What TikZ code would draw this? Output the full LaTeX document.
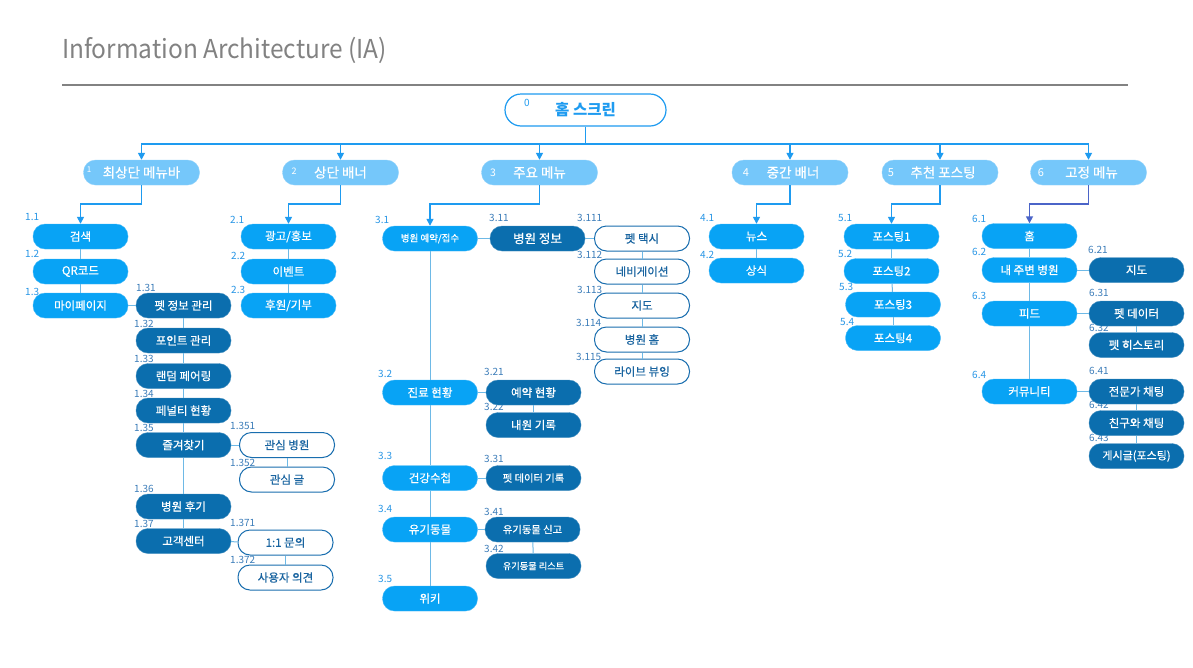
\documentclass[tikz,border=0pt]{standalone}
\usepackage{fontspec}
\setmainfont{Noto Sans CJK KR}
\newfontfamily\nodefont[FakeBold=0.6]{Noto Sans CJK KR}
\usetikzlibrary{arrows.meta}
\definecolor{lvlone}{RGB}{117,199,250}
\definecolor{brightc}{RGB}{8,163,245}
\definecolor{darkc}{RGB}{11,110,174}
\definecolor{treec}{RGB}{30,155,240}
\definecolor{thinc}{RGB}{110,185,230}
\definecolor{numa}{RGB}{40,150,230}
\definecolor{numb}{RGB}{60,125,185}
\definecolor{outlc}{RGB}{25,110,175}
\definecolor{outtc}{RGB}{25,100,160}
\definecolor{navyc}{RGB}{75,100,200}
\definecolor{titlegray}{RGB}{130,130,130}
\newcommand\fs[1]{\nodefont\fontsize{#1}{#1}\selectfont}
\newcommand\fr[1]{\fontsize{#1}{#1}\selectfont}
\begin{document}
\begin{tikzpicture}[x=1pt,y=-1pt,
  pill/.style={rectangle, rounded corners=12pt, minimum width=95pt, minimum height=25pt, inner sep=0pt, font=\fs{11.5}},
  brightbox/.style={pill, fill=brightc, draw=brightc!75!white, text=white},
  darkbox/.style={pill, fill=darkc, draw=darkc!75!white, text=white},
  outbox/.style={pill, fill=white, draw=outlc, line width=1pt, text=outtc},
  topbox/.style={pill, fill=lvlone, draw=lvlone!80!white, minimum width=116pt, font=\fs{13.5}, text=white},
  topnum/.style={inner sep=0pt, text=white},
  numlab/.style={font=\fr{10}, text=numa, inner sep=0pt, anchor=west},
  numlabd/.style={numlab, text=numb},
  treeline/.style={draw=treec, line width=1.5pt},
  treearrow/.style={treeline, -{Triangle[width=7pt,length=7pt]}},
  colline/.style={draw=thinc, line width=1pt}]
\useasboundingbox[fill=white] (0,0) rectangle (1193,667);

% title
\node[anchor=west, inner sep=0pt, text=titlegray, font=\fr{26}] (title) at (62,50) {\scalebox{0.94}[1]{Information Architecture (IA)}};
\coordinate (rulea) at (62,85);
\coordinate (ruleb) at (1128,85);
\draw[titlegray, line width=2pt] (rulea) -- (ruleb);

% number labels (behind nodes)
\node[numlab] (l11) at (25,217) {1.1};
\node[numlab] (l12) at (25,254) {1.2};
\node[numlab] (l13) at (25,292) {1.3};
\node[numlabd] (l131) at (136,288) {1.31};
\node[numlabd] (l132) at (134,324) {1.32};
\node[numlabd] (l133) at (134,359) {1.33};
\node[numlabd] (l134) at (134,394) {1.34};
\node[numlabd] (l135) at (134,428) {1.35};
\node[numlabd] (l136) at (134,489) {1.36};
\node[numlabd] (l137) at (134,524) {1.37};
\node[numlabd] (l1351) at (230,426) {1.351};
\node[numlabd] (l1352) at (230,463) {1.352};
\node[numlabd] (l1371) at (230,523) {1.371};
\node[numlabd] (l1372) at (230,560) {1.372};
\node[numlab] (l21) at (230,220) {2.1};
\node[numlab] (l22) at (231,256) {2.2};
\node[numlab] (l23) at (231,290) {2.3};
\node[numlab] (l31) at (375,220) {3.1};
\node[numlabd] (l311) at (489,218) {3.11};
\node[numlabd] (l3111) at (577,218) {3.111};
\node[numlabd] (l3112) at (577,255) {3.112};
\node[numlabd] (l3113) at (577,290) {3.113};
\node[numlabd] (l3114) at (576,323) {3.114};
\node[numlabd] (l3115) at (576,357) {3.115};
\node[numlab] (l32) at (378,374) {3.2};
\node[numlabd] (l321) at (484,372) {3.21};
\node[numlabd] (l322) at (484,407) {3.22};
\node[numlab] (l33) at (378,456) {3.3};
\node[numlabd] (l331) at (484,459) {3.31};
\node[numlab] (l34) at (378,509) {3.4};
\node[numlabd] (l341) at (484,512) {3.41};
\node[numlabd] (l342) at (484,549) {3.42};
\node[numlab] (l35) at (378,579) {3.5};
\node[numlab] (l41) at (700,218) {4.1};
\node[numlab] (l42) at (700,255) {4.2};
\node[numlab] (l51) at (838,218) {5.1};
\node[numlab] (l52) at (838,254) {5.2};
\node[numlab] (l53) at (839,287) {5.3};
\node[numlab] (l54) at (840,322) {5.4};
\node[numlab] (l61) at (972,219) {6.1};
\node[numlab] (l62) at (972,252) {6.2};
\node[numlab] (l63) at (972,296) {6.3};
\node[numlab] (l64) at (972,375) {6.4};
\node[numlabd] (l621) at (1088,250) {6.21};
\node[numlabd] (l631) at (1089,293) {6.31};
\node[numlabd] (l632) at (1089,328) {6.32};
\node[numlabd] (l641) at (1089,371) {6.41};
\node[numlabd] (l642) at (1089,405) {6.42};
\node[numlabd] (l643) at (1089,438) {6.43};

% root
\node[pill, minimum width=161pt, minimum height=32pt, rounded corners=16pt, fill=white, draw=treec, line width=1.2pt, text=treec, font=\fr{15.5}\bfseries] (root) at (585.5,110) {홈 스크린};
\node[inner sep=0pt, text=treec, font=\fr{10}] (n0) at (527,103) {0};

% level 1
\node[topbox] (t1) at (141.5,172.5) {최상단 메뉴바};
\node[topbox] (t2) at (340.5,172.5) {상단 배너};
\node[topbox] (t3) at (539.5,172.5) {주요 메뉴};
\node[topbox] (t4) at (790,172.5) {\hspace*{6pt}중간 배너};
\node[topbox] (t5) at (940,172.5) {\hspace*{6pt}추천 포스팅};
\node[topbox] (t6) at (1088.5,172.5) {\hspace*{6pt}고정 메뉴};
\node[topnum, font=\fr{8}] (t1n) at (89,170) {1};
\node[topnum, font=\fr{9}] (t2n) at (294,171) {2};
\node[topnum, font=\fr{10.5}] (t3n) at (493,173) {3};
\node[topnum, font=\fr{11}] (t4n) at (746,173) {4};
\node[topnum, font=\fr{11}] (t5n) at (891,173) {5};
\node[topnum, font=\fr{11}] (t6n) at (1041,173) {6};

% column 1
\node[brightbox] (n11) at (80.5,236.5) {검색};
\node[brightbox] (n12) at (80.5,271.5) {QR코드};
\node[brightbox] (n13) at (80.5,305.5) {마이페이지};
\node[darkbox] (n131) at (183.5,305.5) {펫 정보 관리};
\node[darkbox] (n132) at (183.5,340.5) {포인트 관리};
\node[darkbox] (n133) at (183.5,376) {랜덤 페어링};
\node[darkbox] (n134) at (183.5,410.5) {페널티 현황};
\node[darkbox] (n135) at (183.5,445) {즐겨찾기};
\node[darkbox] (n136) at (183.5,506.5) {병원 후기};
\node[darkbox] (n137) at (183.5,541) {고객센터};
\node[outbox] (n1351) at (287,445) {관심 병원};
\node[outbox] (n1352) at (287,479.5) {관심 글};
\node[outbox] (n1371) at (285.5,542.5) {1:1 문의};
\node[outbox] (n1372) at (285.5,577.5) {사용자 의견};

% column 2
\node[brightbox] (n21) at (288.5,236.5) {광고/홍보};
\node[brightbox] (n22) at (288.5,271.5) {이벤트};
\node[brightbox] (n23) at (288.5,305.5) {후원/기부};

% column 3
\node[brightbox, font=\fs{9.5}] (n31) at (430,238.5) {병원 예약/접수};
\node[brightbox] (n32) at (430,392.5) {진료 현황};
\node[brightbox] (n33) at (430,478) {건강수첩};
\node[brightbox] (n34) at (430,529.5) {유기동물};
\node[brightbox] (n35) at (430,598.5) {위키};
\node[darkbox, font=\fs{12.5}] (n311) at (537.5,238.5) {병원 정보};
\node[outbox] (n3111) at (642,238.5) {펫 택시};
\node[outbox] (n3112) at (642,271.5) {네비게이션};
\node[outbox] (n3113) at (642,305.5) {지도};
\node[outbox] (n3114) at (642,339.5) {병원 홈};
\node[outbox] (n3115) at (642,371.5) {라이브 뷰잉};
\node[darkbox] (n321) at (533.5,392.5) {예약 현황};
\node[darkbox] (n322) at (533.5,425) {내원 기록};
\node[darkbox, font=\fs{10.3}] (n331) at (533.5,478) {펫 데이터 기록};
\node[darkbox, font=\fs{10.3}] (n341) at (532.5,529.5) {유기동물 신고};
\node[darkbox, font=\fs{9.2}] (n342) at (533.5,566) {유기동물 리스트};

% column 4
\node[brightbox] (n41) at (756.5,236.5) {뉴스};
\node[brightbox] (n42) at (756.5,270.5) {상식};

% column 5
\node[brightbox] (n51) at (891.5,236.5) {포스팅1};
\node[brightbox] (n52) at (891.5,271) {포스팅2};
\node[brightbox] (n53) at (893,304.5) {포스팅3};
\node[brightbox] (n54) at (893,338) {포스팅4};

% column 6
\node[brightbox] (n61) at (1029.5,236) {홈};
\node[brightbox] (n62) at (1029.5,270) {내 주변 병원};
\node[brightbox] (n63) at (1029.5,313.5) {피드};
\node[brightbox] (n64) at (1029.5,391.5) {커뮤니티};
\node[darkbox] (n621) at (1136.5,270) {지도};
\node[darkbox] (n631) at (1136.5,313.5) {펫 데이터};
\node[darkbox] (n632) at (1136.5,345) {펫 히스토리};
\node[darkbox] (n641) at (1136.5,391.5) {전문가 채팅};
\node[darkbox] (n642) at (1136.5,423) {친구와 채팅};
\node[darkbox, font=\fs{11}] (n643) at (1136.5,456) {게시글(포스팅)};

% main tree
\coordinate (hub) at (585.5,144);
\draw[treeline] (root.south) -- (hub);
\foreach \t in {t1,t2,t3,t4,t5,t6} {\draw[treearrow] (hub) -| (\t.north);}
\draw[treearrow] (t1.south) -- ++(0,19) -| (n11.north);
\draw[treearrow] (t2.south) -- ++(0,19) -| (n21.north);
\draw[treearrow] (t3.south) -- ++(0,19) -| (n31.north);
\draw[treearrow] (t4.south) -- ++(0,19) -| (n41.north);
\draw[treearrow] (t5.south) -- ++(0,19) -| (n51.north);
\draw[treearrow, draw=navyc] (t6.south) -- ++(0,19) -| (n61.north);

% column connectors
\draw[colline] (n11) -- (n12);
\draw[colline] (n12) -- (n13);
\draw[colline] (n13) -- (n131);
\draw[colline] (n131) -- (n132);
\draw[colline] (n132) -- (n133);
\draw[colline] (n133) -- (n134);
\draw[colline] (n134) -- (n135);
\draw[colline] (n135) -- (n136);
\draw[colline] (n136) -- (n137);
\draw[colline] (n135) -- (n1351);
\draw[colline] (n1351) -- (n1352);
\draw[colline] (n137) -- (n1371);
\draw[colline] (n1371) -- (n1372);
\draw[colline] (n21) -- (n22);
\draw[colline] (n22) -- (n23);
\draw[colline] (n31) -- (n32);
\draw[colline] (n32) -- (n33);
\draw[colline] (n33) -- (n34);
\draw[colline] (n34) -- (n35);
\draw[colline] (n31) -- (n311);
\draw[colline] (n311) -- (n3111);
\draw[colline] (n3111) -- (n3112);
\draw[colline] (n3112) -- (n3113);
\draw[colline] (n3113) -- (n3114);
\draw[colline] (n3114) -- (n3115);
\draw[colline] (n32) -- (n321);
\draw[colline] (n321) -- (n322);
\draw[colline] (n33) -- (n331);
\draw[colline] (n34) -- (n341);
\draw[colline] (n341) -- (n342);
\draw[colline] (n41) -- (n42);
\draw[colline] (n51) -- (n52);
\draw[colline] (n52) -- (n53);
\draw[colline] (n53) -- (n54);
\draw[colline] (n61) -- (n62);
\draw[colline] (n62) -- (n63);
\draw[colline] (n63) -- (n64);
\draw[colline] (n62) -- (n621);
\draw[colline] (n63) -- (n631);
\draw[colline] (n631) -- (n632);
\draw[colline] (n64) -- (n641);
\draw[colline] (n641) -- (n642);
\draw[colline] (n642) -- (n643);
\end{tikzpicture}
\end{document}
